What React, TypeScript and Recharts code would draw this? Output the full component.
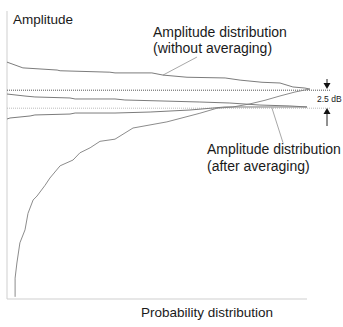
import React from "react";
import { LineChart, Line, XAxis, YAxis, ReferenceLine } from "recharts";

// Probability (%) and amplitude (dB, 0 = peak without averaging)
const probUpperRaw = [0, 5.3, 16.7, 17.7, 34.3, 36, 48.3, 52, 60, 72.7, 77.7, 85, 91, 95.3, 99.3, 101];
const ampUpperRaw = [3.9, 3.1, 2.8, 2.7, 2.5, 2.4, 2.4, 2.1, 1.8, 1.7, 1.4, 1.1, 1.0, 0.45, 0.3, 0.15];

const probLowerRaw = [2.7, 2.7, 3.3, 4.3, 6, 7, 8.7, 10, 12.7, 14.3, 17.7, 22, 24.3, 27.7, 31, 36, 42, 53.3, 64.3, 70, 75.3, 81, 86, 91, 96, 99.3, 101];
const ampLowerRaw = [-28.7, -26.1, -24.0, -21.2, -19.4, -17.1, -15.25, -14.7, -13.2, -12.2, -10.5, -9.7, -8.7, -8.0, -7.1, -6.8, -5.25, -4.4, -3.2, -2.5, -2.33, -1.9, -1.4, -0.8, -0.25, 0.03, 0.15];

const probUpperAvg = [0, 6, 9.3, 21, 22.7, 36, 39.3, 64.3, 74.3, 84.3, 94.3, 100];
const ampUpperAvg = [-0.53, -0.81, -0.94, -1.08, -1.22, -1.22, -1.36, -1.64, -1.78, -2.06, -2.19, -2.33];

const probLowerAvg = [0, 1, 7.7, 9.3, 21, 22.7, 36, 47.7, 61, 72.7, 81, 100];
const ampLowerAvg = [-4.0, -3.86, -3.58, -3.44, -3.31, -3.17, -3.17, -3.03, -2.75, -2.33, -2.33, -2.33];

const peakRaw = 0;
const peakAvg = -2.5;

const zip = (xs: number[], ys: number[]) => xs.map((x, i) => ({ x, y: ys[i] }));
const upperRaw = zip(probUpperRaw, ampUpperRaw);
const lowerRaw = zip(probLowerRaw, ampLowerRaw);
const upperAvg = zip(probUpperAvg, ampUpperAvg);
const lowerAvg = zip(probLowerAvg, ampLowerAvg);

const FONT = "'Liberation Sans', Arial, sans-serif";
const CURVE = "#7c7c7c";

export default function App() {
  return (
    <div style={{ position: "absolute", left: 0, top: 0, width: 343, height: 327, background: "#fff" }}>
      <LineChart width={343} height={327} margin={{ top: 11, right: 0, bottom: 28, left: 7 }}>
        <XAxis type="number" dataKey="x" domain={[0, 112]} hide allowDataOverflow />
        <YAxis type="number" dataKey="y" domain={[-29, 11]} hide allowDataOverflow />
        {/* axes */}
        <ReferenceLine segment={[{ x: 0, y: -29 }, { x: 0, y: 11 }]} stroke="#cfcfcf" strokeWidth={1} ifOverflow="visible" />
        <ReferenceLine segment={[{ x: 0, y: -29 }, { x: 100, y: -29 }]} stroke="#cfcfcf" strokeWidth={1} ifOverflow="visible" />
        {/* level lines */}
        <ReferenceLine segment={[{ x: 0, y: peakRaw }, { x: 107.7, y: peakRaw }]} stroke="#555" strokeDasharray="1 1" ifOverflow="visible" />
        <ReferenceLine segment={[{ x: 0, y: peakAvg }, { x: 107.7, y: peakAvg }]} stroke="#bbb" strokeDasharray="1 1" ifOverflow="visible" />
        {/* annotation leaders */}
        <ReferenceLine segment={[{ x: 63.3, y: 4.6 }, { x: 52, y: 2.1 }]} stroke="#a8a8a8" ifOverflow="visible" />
        <ReferenceLine segment={[{ x: 88.3, y: -2.45 }, { x: 92, y: -7.3 }]} stroke="#a8a8a8" ifOverflow="visible" />
        <Line data={upperRaw} dataKey="y" type="linear" stroke={CURVE} strokeWidth={1} dot={false} isAnimationActive={false} />
        <Line data={lowerRaw} dataKey="y" type="linear" stroke="#8c8c8c" strokeWidth={1} dot={false} isAnimationActive={false} />
        <Line data={upperAvg} dataKey="y" type="linear" stroke={CURVE} strokeWidth={1} dot={false} isAnimationActive={false} />
        <Line data={lowerAvg} dataKey="y" type="linear" stroke={CURVE} strokeWidth={1} dot={false} isAnimationActive={false} />
      </LineChart>
      <svg width={343} height={327} style={{ position: "absolute", left: 0, top: 0, pointerEvents: "none" }}>
        <g fontFamily={FONT} fill="#1a1a1a">
          <text x={13} y={24} fontSize={13.5}>Amplitude</text>
          <text x={153} y={37} fontSize={14}>Amplitude distribution</text>
          <text x={153} y={53} fontSize={14}>(without averaging)</text>
          <text x={207} y={154} fontSize={14}>Amplitude distribution</text>
          <text x={207} y={171} fontSize={14}>(after averaging)</text>
          <text x={317} y={102} fontSize={8.5}>2.5 dB</text>
          <text x={207} y={317} fontSize={13.5} textAnchor="middle">Probability distribution</text>
        </g>
        <line x1={327} y1={79} x2={327} y2={84} stroke="#222" strokeWidth={1} />
        <polygon points="323.5,83 330.5,83 327,89" fill="#111" />
        <line x1={327} y1={113} x2={327} y2={126} stroke="#222" strokeWidth={1} />
        <polygon points="323.5,114 330.5,114 327,108" fill="#111" />
      </svg>
    </div>
  );
}
